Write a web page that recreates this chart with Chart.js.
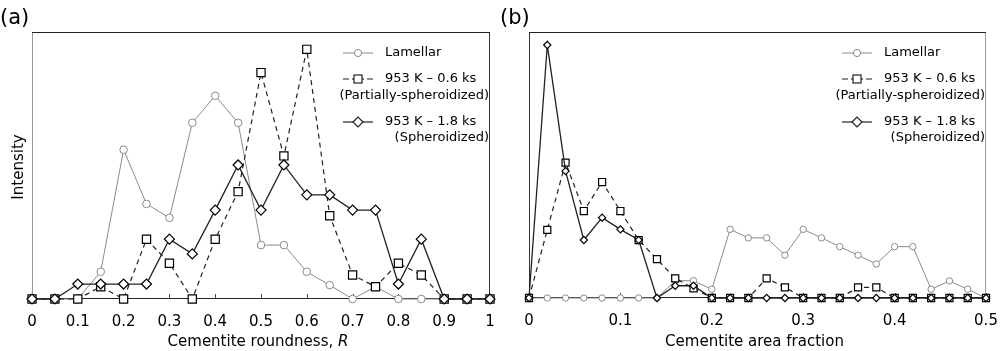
<!DOCTYPE html>
<html><head><meta charset="utf-8">
<script src="https://cdn.jsdelivr.net/npm/chart.js@4/dist/chart.umd.min.js"></script>
<style>
html,body{margin:0;padding:0;background:#fff}
body{width:1000px;height:351px;overflow:hidden;display:flex}
.w{position:relative;width:500px;height:351px}
</style></head>
<body>
<div class="w"><canvas id="ca"></canvas></div>
<div class="w"><canvas id="cb"></canvas></div>
<script>
// ---- data (a): cementite roundness ----
const roundness = [0,0.05,0.1,0.15,0.2,0.25,0.3,0.35,0.4,0.45,0.5,0.55,0.6,0.65,0.7,0.75,0.8,0.85,0.9,0.95,1];
const lamellarA = [0,0,0,10.2,55.9,35.6,30.4,66.0,76.1,66.0,20.2,20.2,10.2,5.2,0,4.6,0,0,0,0,0];
const partialA  = [0,0,0,4.6,0,22.4,13.4,0,22.4,40.2,84.8,53.6,93.5,31.2,9.0,4.6,13.4,9.0,0,0,0];
const spheroA   = [0,0,5.6,5.6,5.6,5.6,22.4,16.9,33.3,50.2,33.3,50.2,39.0,39.0,33.3,33.3,5.6,22.4,0,0,0];
// ---- data (b): cementite area fraction ----
const areaFrac = [0,0.02,0.04,0.06,0.08,0.1,0.12,0.14,0.16,0.18,0.2,0.22,0.24,0.26,0.28,0.3,0.32,0.34,0.36,0.38,0.4,0.42,0.44,0.46,0.48,0.5];
const lamellarB = [0,0,0,0,0,0,0,0,6.5,6.5,3.3,25.8,22.6,22.6,16.1,25.8,22.6,19.3,16.1,12.8,19.3,19.3,3.3,6.4,3.3,0];
const partialB  = [0,25.6,50.9,32.7,43.6,32.7,21.8,14.6,7.4,3.6,0,0,0,7.4,4.0,0,0,0,4.0,4.0,0,0,0,0,0,0];
const spheroB   = [0,95.1,47.7,21.8,30.2,25.8,21.8,0,4.6,4.6,0,0,0,0,0,0,0,0,0,0,0,0,0,0,0,0];
const seriesNames = ['Lamellar','953 K \u2013 0.6 ks','(Partially-spheroidized)','953 K \u2013 1.8 ks','(Spheroidized)'];
const tickLabelsA = ['0','0.1','0.2','0.3','0.4','0.5','0.6','0.7','0.8','0.9','1'];
const tickLabelsB = ['0','0.1','0.2','0.3','0.4','0.5'];

const FONT = '"DejaVu Sans", sans-serif';
const GRAY = '#8a8a8a', DARK = '#222';

function pts(xs, ys){ return xs.map((x,i)=>({x:x, y:ys[i]})); }

function makeChart(id, cfg){
  const framePlugin = {
    id:'frame',
    beforeDatasetsDraw(chart){
      const {ctx, chartArea:a} = chart;
      ctx.save();
      ctx.lineWidth = 1;
      ctx.strokeStyle = cfg.leftColor; ctx.beginPath(); ctx.moveTo(a.left+0.5,a.top); ctx.lineTo(a.left+0.5,a.bottom); ctx.stroke();
      ctx.strokeStyle = cfg.rightColor; ctx.beginPath(); ctx.moveTo(a.right-0.5,a.top); ctx.lineTo(a.right-0.5,a.bottom); ctx.stroke();
      ctx.strokeStyle = DARK; ctx.beginPath(); ctx.moveTo(a.left,a.top+0.5); ctx.lineTo(a.right,a.top+0.5); ctx.stroke();
      ctx.beginPath(); ctx.moveTo(a.left,a.bottom-0.5); ctx.lineTo(a.right,a.bottom-0.5); ctx.stroke();
      const xs = chart.scales.x;
      ctx.strokeStyle = '#444';
      xs.ticks.forEach(t=>{
        const px = Math.round(xs.getPixelForValue(t.value))+0.5;
        ctx.beginPath(); ctx.moveTo(px,a.bottom); ctx.lineTo(px,a.bottom-5); ctx.stroke();
      });
      ctx.restore();
    },
    afterDraw(chart){
      const {ctx, chartArea:a} = chart;
      ctx.save();
      ctx.fillStyle = '#000';
      ctx.font = '21px '+FONT; ctx.textBaseline='alphabetic'; ctx.textAlign='left';
      ctx.fillText(cfg.panel, 0, 24);
      ctx.font = '15px '+FONT;
      const w1 = ctx.measureText(cfg.xTitle).width;
      let w2 = 0;
      if (cfg.xTitleItalic){ ctx.font='italic 15px '+FONT; w2 = ctx.measureText(cfg.xTitleItalic).width; }
      const cx = (a.left+a.right)/2 - 3;
      const sx = cx - (w1+w2)/2;
      ctx.font = '15px '+FONT;
      ctx.fillText(cfg.xTitle, sx, 346);
      if (cfg.xTitleItalic){ ctx.font='italic 15px '+FONT; ctx.fillText(cfg.xTitleItalic, sx+w1, 346); }
      if (cfg.yTitle){
        ctx.save(); ctx.translate(23, 167); ctx.rotate(-Math.PI/2);
        ctx.font='15px '+FONT; ctx.textAlign='center'; ctx.textBaseline='alphabetic';
        ctx.fillText(cfg.yTitle, 0, 0); ctx.restore();
      }
      const lx = cfg.legX, tx = lx+42, rx = cfg.legRight;
      const rows = [53,79,96,122,138];
      ctx.font = '13px '+FONT; ctx.textBaseline='middle';
      ctx.strokeStyle = GRAY; ctx.lineWidth=1; ctx.setLineDash([]);
      ctx.beginPath(); ctx.moveTo(lx,rows[0]); ctx.lineTo(lx+30,rows[0]); ctx.stroke();
      ctx.fillStyle='#fff'; ctx.beginPath(); ctx.arc(lx+15,rows[0],3.6,0,Math.PI*2); ctx.fill(); ctx.stroke();
      ctx.fillStyle='#000'; ctx.textAlign='left'; ctx.fillText(seriesNames[0], tx, rows[0]);
      ctx.strokeStyle = DARK; ctx.lineWidth=1.2;
      ctx.beginPath(); ctx.moveTo(lx,rows[1]); ctx.lineTo(lx+6,rows[1]); ctx.moveTo(lx+24,rows[1]); ctx.lineTo(lx+30,rows[1]); ctx.stroke();
      ctx.beginPath(); ctx.moveTo(lx+9,rows[1]); ctx.lineTo(lx+21,rows[1]); ctx.stroke();
      ctx.fillStyle='#fff'; ctx.fillRect(lx+11,rows[1]-4,8,8); ctx.strokeRect(lx+11,rows[1]-4,8,8);
      ctx.fillStyle='#000'; ctx.fillText(seriesNames[1], tx, rows[1]);
      ctx.textAlign='right'; ctx.fillText(seriesNames[2], rx, rows[2]);
      ctx.textAlign='left';
      ctx.beginPath(); ctx.moveTo(lx,rows[3]); ctx.lineTo(lx+30,rows[3]); ctx.stroke();
      ctx.fillStyle='#fff'; ctx.beginPath();
      ctx.moveTo(lx+10,rows[3]); ctx.lineTo(lx+15,rows[3]-5); ctx.lineTo(lx+20,rows[3]); ctx.lineTo(lx+15,rows[3]+5); ctx.closePath(); ctx.fill(); ctx.stroke();
      ctx.fillStyle='#000'; ctx.fillText(seriesNames[3], tx, rows[3]);
      ctx.textAlign='right'; ctx.fillText(seriesNames[4], rx, rows[4]);
      ctx.restore();
    }
  };
  return new Chart(document.getElementById(id), {
    type:'line',
    data:{ datasets:[
      {label:seriesNames[3], data:pts(cfg.x, cfg.sph), borderColor:DARK, borderWidth:1.3, pointStyle:'rectRot', pointRadius:cfg.rD, pointBorderWidth:1.2, pointBackgroundColor:'#fff', pointBorderColor:'#000', tension:0},
      {label:seriesNames[1], data:pts(cfg.x, cfg.par), borderColor:DARK, borderWidth:1.2, borderDash:[5,4], pointStyle:'rect', pointRadius:cfg.rS, pointBorderWidth:1.2, pointBackgroundColor:'#fff', pointBorderColor:'#000', tension:0},
      {label:seriesNames[0], data:pts(cfg.x, cfg.lam), borderColor:GRAY, borderWidth:1, pointStyle:'circle', pointRadius:cfg.rC, pointBorderWidth:1, pointBackgroundColor:'#fff', pointBorderColor:GRAY, tension:0}
    ]},
    options:{
      responsive:true, maintainAspectRatio:false, animation:false,
      clip:false,
      layout:{padding:{left:cfg.padL, right:cfg.padR, top:32, bottom:0}},
      plugins:{legend:{display:false}, tooltip:{enabled:false}},
      elements:{point:{hoverRadius:0}},
      scales:{
        x:{type:'linear', min:0, max:cfg.xmax,
           grid:{display:false}, border:{display:false},
           afterFit:s=>{ s.height = cfg.xh; s.paddingLeft = 0; s.paddingRight = 0; },
           afterBuildTicks:s=>{ s.ticks = cfg.ticks.map(v=>({value:parseFloat(v)})); },
           ticks:{padding:6, color:'#000', font:{family:FONT, size:15}, maxRotation:0, autoSkip:false,
                  callback:(v,i)=>cfg.ticks[i]}},
        y:{display:false, min:0, max:100}
      }
    },
    plugins:[framePlugin]
  });
}

makeChart('ca', {panel:'(a)', x:roundness, lam:lamellarA, par:partialA, sph:spheroA, xmax:1,
  ticks:tickLabelsA, padL:32, padR:10, xh:52, leftColor:'#9a9a9a', rightColor:'#333',
  xTitle:'Cementite roundness, ', xTitleItalic:'R', yTitle:'Intensity', legX:343, legRight:489,
  rC:3.8, rS:5.8, rD:5});
makeChart('cb', {panel:'(b)', x:areaFrac, lam:lamellarB, par:partialB, sph:spheroB, xmax:0.5,
  ticks:tickLabelsB, padL:29, padR:14, xh:53, leftColor:'#333', rightColor:'#9a9a9a',
  xTitle:'Cementite area fraction', xTitleItalic:'', yTitle:'', legX:342, legRight:485,
  rC:3.2, rS:5, rD:3.6});
</script>
</body></html>
